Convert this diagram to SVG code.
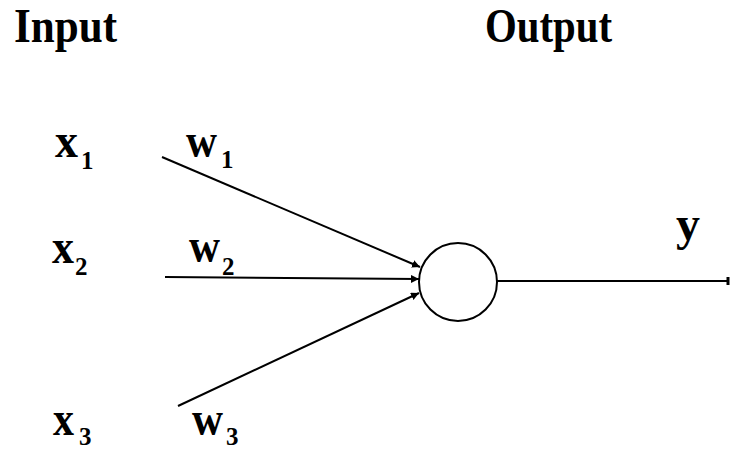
<svg xmlns="http://www.w3.org/2000/svg" width="730" height="450" viewBox="0 0 730 450">
<style>
.t{font-family:"Liberation Serif","Times New Roman",serif;font-weight:bold;fill:#000}
.h{font-size:48px}
.v{font-size:48px}
.s{font-size:25px}
.ln{stroke:#000;stroke-width:2;fill:none}
</style>
<defs>
<marker id="ah" viewBox="0 0 10 10" refX="10" refY="5" markerWidth="8" markerHeight="8" markerUnits="userSpaceOnUse" orient="auto">
<path d="M0,0 L10,5 L0,10 z" fill="#000"/>
</marker>
</defs>
<rect width="730" height="450" fill="#fff"/>
<g id="titles">
<text class="t h" x="14" y="42" textLength="103" lengthAdjust="spacingAndGlyphs">Input</text>
<text class="t h" x="485" y="42" textLength="127" lengthAdjust="spacingAndGlyphs">Output</text>
</g>
<g id="connectors">
<line class="ln" x1="162" y1="157" x2="420" y2="267" marker-end="url(#ah)"/>
<line class="ln" x1="165" y1="277" x2="419" y2="279" marker-end="url(#ah)"/>
<line class="ln" x1="178" y1="406" x2="419" y2="293" marker-end="url(#ah)"/>
<line class="ln" x1="497" y1="281" x2="728" y2="281"/>
<line x1="728" y1="277" x2="728" y2="285" stroke="#000" stroke-width="3"/>
</g>
<g id="neuron">
<circle cx="458" cy="282" r="39" class="ln"/>
</g>
<g id="x1"><text class="t v" x="55" y="157" textLength="23" lengthAdjust="spacingAndGlyphs">x</text><text class="t s" x="81" y="169">1</text></g>
<g id="x2"><text class="t v" x="52" y="263" textLength="22" lengthAdjust="spacingAndGlyphs">x</text><text class="t s" x="75" y="275">2</text></g>
<g id="x3"><text class="t v" x="53" y="435" textLength="21" lengthAdjust="spacingAndGlyphs">x</text><text class="t s" x="79" y="445">3</text></g>
<g id="w1"><text class="t v" x="186" y="157" textLength="31" lengthAdjust="spacingAndGlyphs">w</text><text class="t s" x="221" y="168">1</text></g>
<g id="w2"><text class="t v" x="189" y="262" textLength="31" lengthAdjust="spacingAndGlyphs">w</text><text class="t s" x="222" y="275">2</text></g>
<g id="w3"><text class="t v" x="192" y="435" textLength="31" lengthAdjust="spacingAndGlyphs">w</text><text class="t s" x="226" y="445">3</text></g>
<g id="y"><text class="t v" x="676" y="240">y</text></g>
</svg>
